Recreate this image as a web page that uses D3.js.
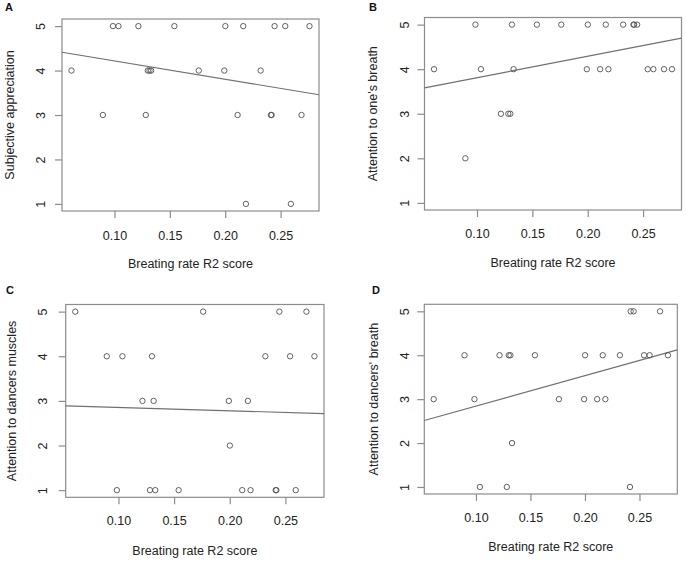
<!DOCTYPE html>
<html>
<head>
<meta charset="utf-8">
<script src="https://cdn.jsdelivr.net/npm/d3@7"></script>
<style>
  html, body { margin: 0; padding: 0; background: #fff; }
  svg { display: block; font-family: "Liberation Sans", Arial, Helvetica, sans-serif; }
</style>
</head>
<body>
<svg id="chart" width="686" height="563"></svg>
<script>
// Breathing-rate R2 score per participant (shared x for all panels)
const r2Score = [0.0612, 0.0895, 0.0986, 0.1036, 0.1216, 0.1283, 0.1301, 0.1316, 0.1331, 0.1541,
                 0.1761, 0.1992, 0.2001, 0.2112, 0.2163, 0.2187, 0.2320, 0.2413, 0.2419, 0.2446,
                 0.2542, 0.2593, 0.2689, 0.2761];
// Ratings per panel
const subjectiveAppreciation = [4,3,5,5,5,3,4,4,4,5,4,4,5,3,5,1,4,3,3,5,5,1,3,5];
const attentionOwnBreath     = [4,2,5,4,3,3,3,5,4,5,5,4,5,4,5,4,5,5,5,5,4,4,4,4];
const attentionMuscles       = [5,4,1,4,3,1,4,3,1,1,5,3,2,1,3,1,4,1,1,5,4,1,5,4];
const attentionDancerBreath  = [3,4,3,1,4,1,4,4,2,4,3,3,4,3,4,3,4,1,5,5,4,4,5,4];

const panelLetters = ["A", "B", "C", "D"];
const yTitles = ["Subjective appreciation", "Attention to one's breath",
                 "Attention to dancers muscles", "Attention to dancers' breath"];
const xTitle = "Breating rate R2 score";
const xTicks = [0.10, 0.15, 0.20, 0.25];
const yTicks = [1, 2, 3, 4, 5];

const series = [subjectiveAppreciation, attentionOwnBreath, attentionMuscles, attentionDancerBreath];

// Layout of each panel (plot box in pixels)
const layouts = [
  {x0: 62,    x1: 319,   y0: 19,    y1: 211,   letter: [5, 11],    yTitleX: 9,   yLabX: 40,   xLabDy: 28.5, xTitleDy: 57},
  {x0: 424.5, x1: 681.5, y0: 17.5,  y1: 210,   letter: [369, 10.5], yTitleX: 372, yLabX: 404,  xLabDy: 28.3, xTitleDy: 57},
  {x0: 65.7,  x1: 324,   y0: 304.5, y1: 497.3, letter: [6, 294],   yTitleX: 11.5, yLabX: 42.7, xLabDy: 28,  xTitleDy: 57.5},
  {x0: 424.3, x1: 677.3, y0: 304.3, y1: 494,   letter: [372, 294], yTitleX: 373, yLabX: 404,  xLabDy: 27.5, xTitleDy: 57}
];

const svg = d3.select("#chart");
const boxColor = "#8c8c8c";
const textColor = "#222";
const fontSize = 12.5;

function pad(ext) { const d = (ext[1] - ext[0]) * 0.04; return [ext[0] - d, ext[1] + d]; }

series.forEach((ys, i) => {
  const L = layouts[i];
  const g = svg.append("g");
  const x = d3.scaleLinear().domain(pad(d3.extent(r2Score))).range([L.x0, L.x1]);
  const y = d3.scaleLinear().domain(pad(d3.extent(yTicks))).range([L.y1, L.y0]);

  // box
  g.append("rect").attr("x", L.x0).attr("y", L.y0)
    .attr("width", L.x1 - L.x0).attr("height", L.y1 - L.y0)
    .attr("fill", "none").attr("stroke", boxColor).attr("stroke-width", 1.2);

  // x axis
  const xa = g.append("g").attr("transform", `translate(0,${L.y1})`)
    .call(d3.axisBottom(x).tickValues(xTicks).tickFormat(d3.format(".2f")).tickSizeOuter(0).tickSize(7));
  xa.select(".domain").remove();
  xa.selectAll(".tick line").attr("stroke", boxColor).attr("stroke-width", 1.2);
  xa.selectAll(".tick text").attr("y", L.xLabDy).attr("dy", 0)
    .attr("fill", textColor).style("font-size", fontSize + "px").style("font-family", "inherit");

  // y axis
  const ya = g.append("g").attr("transform", `translate(${L.x0},0)`)
    .call(d3.axisLeft(y).tickValues(yTicks).tickFormat(d3.format("d")).tickSizeOuter(0).tickSize(7));
  ya.select(".domain").remove();
  ya.selectAll(".tick line").attr("stroke", boxColor).attr("stroke-width", 1.2);
  ya.selectAll(".tick text")
    .attr("x", null).attr("dy", null)
    .attr("transform", `translate(${L.yLabX - L.x0},0) rotate(-90)`)
    .attr("y", 0).attr("dy", "0.36em")
    .attr("text-anchor", "middle")
    .attr("fill", textColor).style("font-size", fontSize + "px").style("font-family", "inherit");

  // regression line (least squares on the data)
  const mx = d3.mean(r2Score), my = d3.mean(ys);
  let sxy = 0, sxx = 0;
  r2Score.forEach((v, k) => { sxy += (v - mx) * (ys[k] - my); sxx += (v - mx) * (v - mx); });
  const b = sxy / sxx, a = my - b * mx;
  const xd = x.domain();
  g.append("line")
    .attr("x1", x(xd[0])).attr("y1", y(a + b * xd[0]))
    .attr("x2", x(xd[1])).attr("y2", y(a + b * xd[1]))
    .attr("stroke", "#707070").attr("stroke-width", 1.2);

  // points
  g.append("g").selectAll("circle").data(r2Score.map((v, k) => [v, ys[k]])).join("circle")
    .attr("cx", d => x(d[0])).attr("cy", d => y(d[1])).attr("r", 2.7)
    .attr("fill", "none").attr("stroke", "#505050").attr("stroke-width", 0.9);

  // x title
  g.append("text").attr("x", (L.x0 + L.x1) / 2).attr("y", L.y1 + L.xTitleDy)
    .attr("text-anchor", "middle").attr("fill", textColor)
    .style("font-size", fontSize + "px").text(xTitle);

  // y title
  g.append("text")
    .attr("transform", `translate(${L.yTitleX},${(L.y0 + L.y1) / 2}) rotate(-90)`)
    .attr("dy", "0.36em").attr("text-anchor", "middle").attr("fill", textColor)
    .style("font-size", fontSize + "px").text(yTitles[i]);

  // panel letter
  svg.append("text").attr("x", L.letter[0]).attr("y", L.letter[1])
    .attr("fill", "#111").attr("font-weight", "bold").style("font-size", "11px")
    .text(panelLetters[i]);
});
</script>
</body>
</html>
